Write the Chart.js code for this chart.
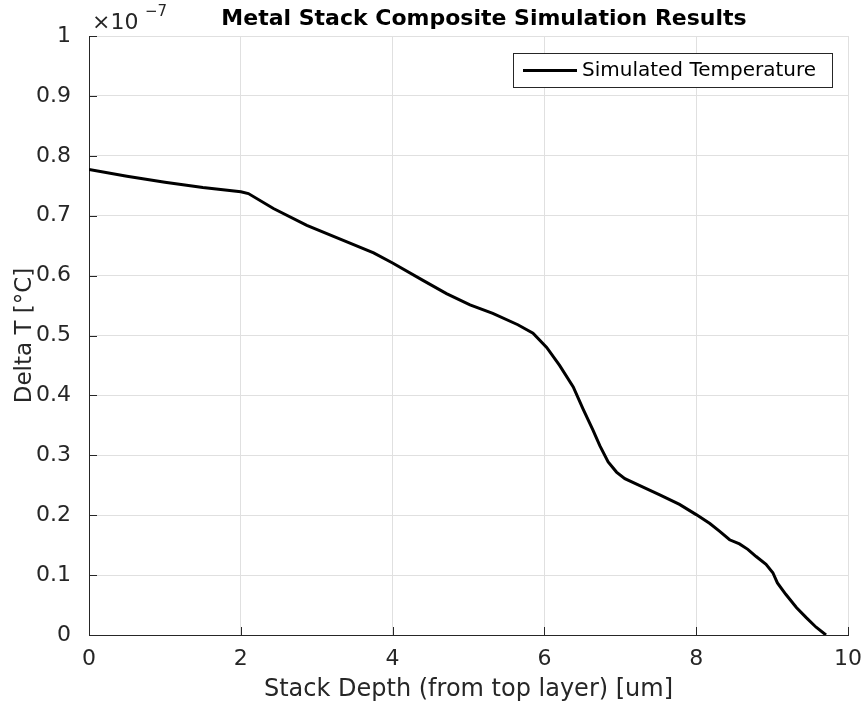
<!DOCTYPE html>
<html>
<head>
<meta charset="utf-8">
<script src="https://cdn.jsdelivr.net/npm/chart.js@4/dist/chart.umd.min.js"></script>
<style>
  html, body { margin: 0; padding: 0; background: #fff; }
  #wrap { width: 866px; height: 708px; }
</style>
</head>
<body>
<div id="wrap"><canvas id="chart"></canvas></div>
<script>
// depth along the stack [um]
const depth = [0, 0.5, 1, 1.5, 2, 2.1, 2.43, 2.87, 3.31, 3.75, 4, 4.4, 4.71, 5.02, 5.32,
  5.65, 5.85, 6.03, 6.2, 6.38, 6.51, 6.64, 6.73, 6.84, 6.95, 7.06, 7.3, 7.52, 7.78, 8,
  8.18, 8.31, 8.44, 8.57, 8.68, 8.79, 8.92, 9.01, 9.07, 9.18, 9.32, 9.45, 9.58, 9.71];
// delta T, in units of 1e-7 degC
const deltaT = [0.777, 0.766, 0.756, 0.747, 0.740, 0.737, 0.712, 0.684, 0.661, 0.638, 0.621, 0.592, 0.570, 0.551, 0.537,
  0.518, 0.504, 0.480, 0.450, 0.414, 0.377, 0.342, 0.316, 0.289, 0.272, 0.261, 0.247, 0.234, 0.218, 0.201,
  0.186, 0.173, 0.159, 0.152, 0.143, 0.131, 0.118, 0.104, 0.087, 0.068, 0.046, 0.029, 0.013, 0];
const xTicks = ['0', '2', '4', '6', '8', '10'];
const yTicks = ['0', '0.1', '0.2', '0.3', '0.4', '0.5', '0.6', '0.7', '0.8', '0.9', '1'];

const FONT = '"DejaVu Sans", sans-serif';
const INK = '#262626';

const matlabBits = {
  id: 'matlabBits',
  afterDatasetsDraw(chart) {
    const { ctx, chartArea: a, scales: { x, y } } = chart;
    ctx.save();
    // inward tick marks
    ctx.strokeStyle = INK;
    ctx.lineWidth = 1;
    ctx.beginPath();
    x.ticks.forEach(t => {
      const px = Math.round(x.getPixelForValue(t.value)) + 0.5;
      ctx.moveTo(px, a.bottom); ctx.lineTo(px, a.bottom - 8);
    });
    y.ticks.forEach(t => {
      const py = Math.round(y.getPixelForValue(t.value)) + 0.5;
      ctx.moveTo(a.left, py); ctx.lineTo(a.left + 8, py);
    });
    ctx.stroke();

    // legend
    const bx = 513, by = 53, bw = 319, bh = 34;
    ctx.fillStyle = '#fff';
    ctx.fillRect(bx, by, bw, bh);
    ctx.strokeStyle = INK;
    ctx.strokeRect(bx + 0.5, by + 0.5, bw, bh);
    ctx.strokeStyle = '#000';
    ctx.lineWidth = 3;
    ctx.beginPath();
    ctx.moveTo(523, by + bh / 2 + 0.5); ctx.lineTo(577, by + bh / 2 + 0.5);
    ctx.stroke();
    ctx.fillStyle = '#000';
    ctx.font = '20px ' + FONT;
    ctx.textBaseline = 'middle';
    ctx.textAlign = 'left';
    ctx.fillText(chart.data.datasets[0].label, 582, by + bh / 2 + 1);

    // title
    ctx.font = 'bold 22px ' + FONT;
    ctx.textAlign = 'center';
    ctx.fillText('Metal Stack Composite Simulation Results', 484, 19);

    // exponent
    ctx.fillStyle = INK;
    ctx.textAlign = 'left';
    ctx.font = '22px ' + FONT;
    ctx.fillText('\u00d710', 92, 23);
    ctx.font = '15px ' + FONT;
    ctx.fillText('\u22127', 145, 12);
    ctx.restore();
  }
};

new Chart(document.getElementById('chart'), {
  type: 'line',
  data: {
    datasets: [{
      label: 'Simulated Temperature',
      data: depth.map((d, i) => ({ x: d, y: deltaT[i] })),
      borderColor: '#000',
      borderWidth: 3,
      pointRadius: 0,
      tension: 0,
      fill: false
    }]
  },
  options: {
    responsive: true,
    maintainAspectRatio: false,
    animation: false,
    layout: { padding: { top: 36, right: 18, left: 0, bottom: 0 } },
    plugins: {
      legend: { display: false },
      tooltip: { enabled: false }
    },
    scales: {
      x: {
        type: 'linear',
        min: 0, max: 10,
        afterFit: s => { s.height = 73; s.paddingLeft = 0; s.paddingRight = 0; },
        border: { color: INK, width: 1 },
        grid: { color: '#e0e0e0', drawTicks: false },
        ticks: {
          stepSize: 2,
          padding: 11,
          color: INK,
          font: { family: FONT, size: 22 },
          callback: (v, i) => xTicks[i]
        },
        title: {
          display: true,
          text: 'Stack Depth (from top layer) [um]',
          color: INK,
          font: { family: FONT, size: 24 },
          padding: { top: 2, bottom: 4 }
        }
      },
      y: {
        min: 0, max: 1,
        afterFit: s => { s.width = 89; s.paddingTop = 0; s.paddingBottom = 0; },
        border: { color: INK, width: 1 },
        grid: { color: '#e0e0e0', drawTicks: false },
        ticks: {
          stepSize: 0.1,
          padding: 18,
          color: INK,
          font: { family: FONT, size: 22 },
          callback: (v, i) => yTicks[i]
        },
        title: {
          display: true,
          text: 'Delta T [\u00b0C]',
          color: INK,
          font: { family: FONT, size: 23 },
          padding: { top: 11, bottom: 0 }
        }
      }
    }
  },
  plugins: [matlabBits]
});
</script>
</body>
</html>
